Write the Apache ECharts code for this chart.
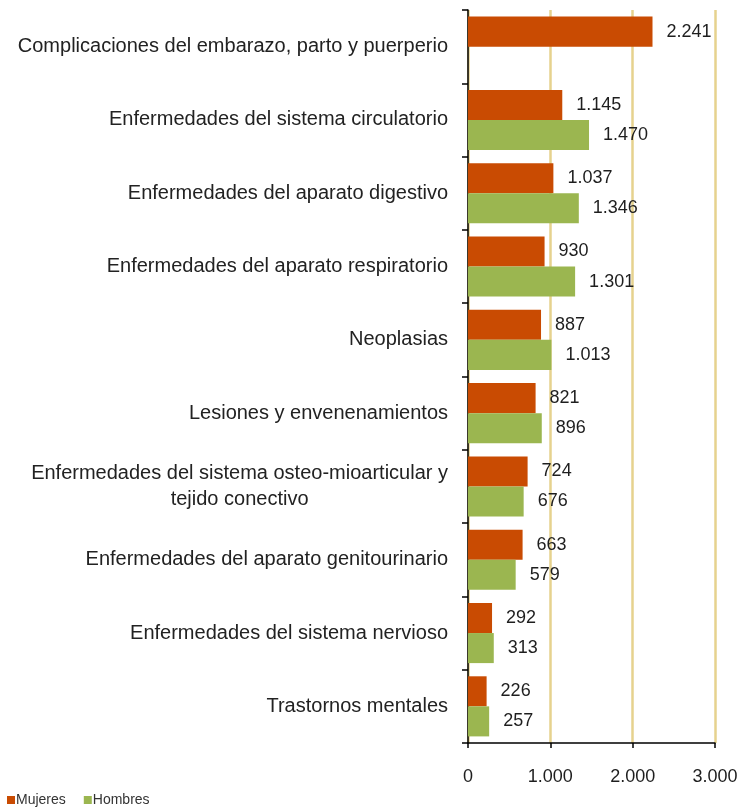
<!DOCTYPE html>
<html>
<head>
<meta charset="utf-8">
<style>
  html, body { margin: 0; padding: 0; background: #ffffff; }
  #chart { width: 742px; height: 808px; }
</style>
<script src="https://cdn.jsdelivr.net/npm/echarts@6/dist/echarts.min.js"></script>
</head>
<body>
<div id="chart"></div>
<script>
const categories = [
  'Complicaciones del embarazo, parto y puerperio',
  'Enfermedades del sistema circulatorio',
  'Enfermedades del aparato digestivo',
  'Enfermedades del aparato respiratorio',
  'Neoplasias',
  'Lesiones y envenenamientos',
  'Enfermedades del sistema osteo-mioarticular y\ntejido conectivo',
  'Enfermedades del aparato genitourinario',
  'Enfermedades del sistema nervioso',
  'Trastornos mentales'
];
const mujeres = [2241, 1145, 1037, 930, 887, 821, 724, 663, 292, 226];
const hombres = [null, 1470, 1346, 1301, 1013, 896, 676, 579, 313, 257];
const seriesNames = ['Mujeres', 'Hombres'];
const xTicks = [0, 1000, 2000, 3000];

const FONT = "'Liberation Sans', Arial, sans-serif";
function fmt(v) {
  return String(Math.round(v)).replace(/\B(?=(\d{3})+(?!\d))/g, '.');
}

const chart = echarts.init(document.getElementById('chart'), null, { renderer: 'canvas' });
const labelStyle = {
  show: true,
  position: 'right',
  distance: 14,
  fontFamily: FONT,
  fontSize: 18,
  color: '#1e1e1e',
  formatter: p => fmt(p.value)
};
chart.setOption({
  animation: false,
  backgroundColor: '#ffffff',
  textStyle: { fontFamily: FONT },
  grid: { left: 468, right: 27, top: 10, bottom: 65, containLabel: false },
  legend: {
    data: seriesNames,
    left: 2,
    top: 788,
    icon: 'rect',
    itemWidth: 8,
    itemHeight: 8,
    itemGap: 18,
    textStyle: { fontFamily: FONT, fontSize: 14, color: '#333333', padding: [0, 0, 0, -4] }
  },
  xAxis: {
    type: 'value',
    min: xTicks[0],
    max: xTicks[xTicks.length - 1],
    interval: 1000,
    axisLine: { show: true, lineStyle: { color: '#000000', width: 1.5 } },
    axisTick: { show: true, length: 5, lineStyle: { color: '#000000', width: 1.5 } },
    axisLabel: { fontFamily: FONT, fontSize: 18, color: '#1e1e1e', margin: 25, formatter: v => fmt(v) },
    splitLine: { show: true, lineStyle: { color: '#e6d28e', width: 2.5 } }
  },
  yAxis: {
    type: 'category',
    data: categories,
    inverse: true,
    axisLine: { show: true, lineStyle: { color: '#000000', width: 1.5 } },
    axisTick: { show: true, length: 6, lineStyle: { color: '#000000', width: 1.5 } },
    axisLabel: {
      margin: 20,
      fontFamily: FONT,
      fontSize: 20,
      color: '#222222',
      formatter: v => v.split('\n').map(s => '{c|' + s + '}').join('\n'),
      rich: { c: { align: 'center', fontFamily: FONT, fontSize: 20, lineHeight: 26, color: '#222222' } }
    },
    splitLine: { show: false }
  },
  series: [
    {
      name: seriesNames[0],
      type: 'bar',
      data: mujeres,
      barGap: '0%',
      barCategoryGap: '18%',
      itemStyle: { color: '#c94b02' },
      label: labelStyle
    },
    {
      name: seriesNames[1],
      type: 'bar',
      data: hombres,
      barGap: '0%',
      barCategoryGap: '18%',
      itemStyle: { color: '#9bb650' },
      label: labelStyle
    }
  ]
});
</script>
</body>
</html>
